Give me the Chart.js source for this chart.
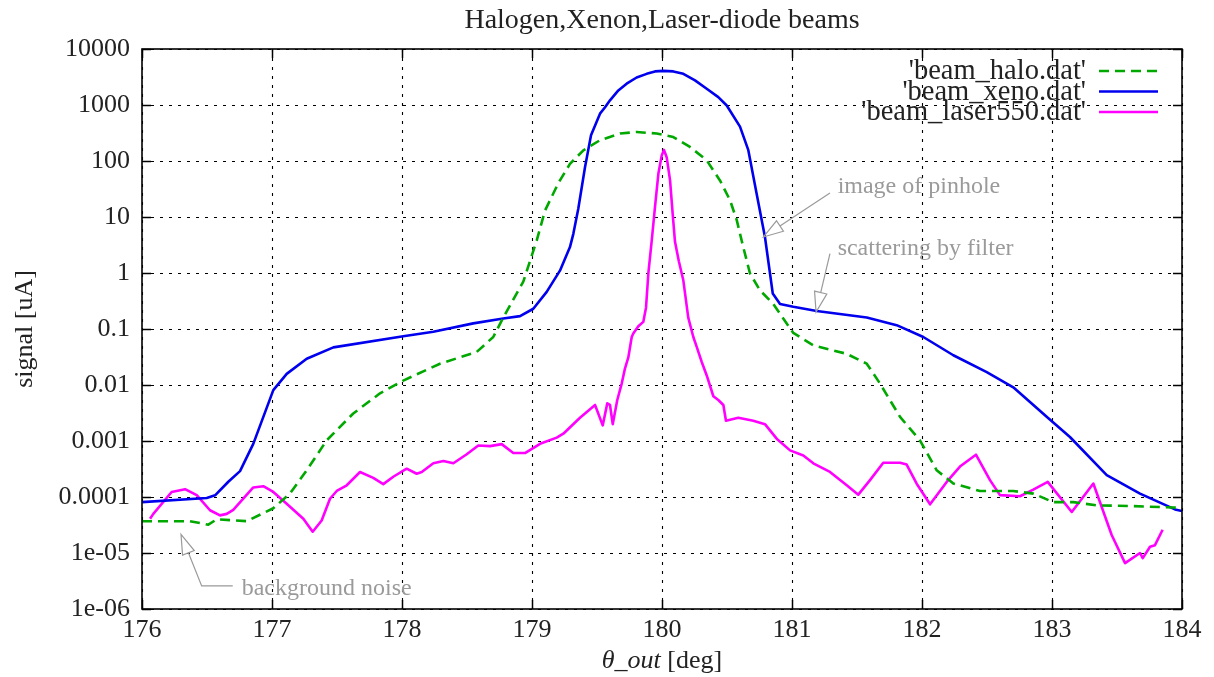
<!DOCTYPE html>
<html>
<head>
<meta charset="utf-8">
<script src="https://cdn.jsdelivr.net/npm/chart.js@4.4.1/dist/chart.umd.min.js"></script>
<style>
  html, body { margin: 0; padding: 0; background: #fff; }
  #wrap { width: 1214px; height: 677px; }
</style>
</head>
<body>
<div id="wrap"><canvas id="c" width="1214" height="677"></canvas></div>
<script>
// ---------- data ----------
const chartTitle = "Halogen,Xenon,Laser-diode beams";
const yAxisTitle = "signal [uA]";
const xAxisTitleItalic = "\u03b8_out";
const xAxisTitleRest = " [deg]";

const xTickValues = [176, 177, 178, 179, 180, 181, 182, 183, 184];
const yTickValues = [1e-6, 1e-5, 1e-4, 1e-3, 1e-2, 1e-1, 1, 10, 100, 1000, 10000];
const yTickLabels = ["1e-06", "1e-05", "0.0001", "0.001", "0.01", "0.1", "1", "10", "100", "1000", "10000"];

const seriesNames = ["'beam_halo.dat'", "'beam_xeno.dat'", "'beam_laser550.dat'"];

const haloX = [176.000,176.369,176.510,176.575,176.805,177.010,177.138,177.267,177.421,177.625,177.831,178.010,178.292,178.575,178.702,178.779,178.933,179.036,179.100,179.202,179.292,179.395,179.523,179.677,179.805,179.959,180.087,180.215,180.344,180.446,180.523,180.575,180.625,180.677,180.754,180.856,181.010,181.164,181.421,181.575,181.677,181.831,181.985,182.113,182.241,182.446,182.702,182.856,183.010,183.164,183.344,183.600,183.933,184.000];
const haloY = [3.7e-5,3.7e-5,3.2e-5,4.0e-5,3.7e-5,6.3e-5,1.15e-4,3.0e-4,0.00103,0.0031,0.0071,0.012,0.024,0.039,0.072,0.16,0.7,3.8,13,40,89,155,235,309,330,309,268,178,103,45,20,8.8,2.9,0.98,0.49,0.28,0.085,0.051,0.036,0.024,0.0106,0.0027,0.00102,3e-4,1.74e-4,1.28e-4,1.28e-4,1.15e-4,8.1e-5,8.1e-5,7.1e-5,6.9e-5,6.5e-5,6.4e-5];

const xenoX = [176.000,176.498,176.562,176.664,176.754,176.856,177.010,177.113,177.267,177.472,178.010,178.241,178.548,178.779,178.908,179.010,179.113,179.215,179.292,179.318,179.356,179.408,179.454,179.523,179.562,179.600,179.664,179.728,179.805,179.882,179.946,180.010,180.087,180.164,180.254,180.344,180.433,180.498,180.600,180.664,180.728,180.792,180.852,180.908,181.010,181.190,181.575,181.805,182.010,182.241,182.498,182.702,182.959,183.138,183.421,183.677,183.946,184.000];
const xenoY = [8.1e-5,9.6e-5,1.07e-4,1.87e-4,2.9e-4,8.9e-4,0.0081,0.0158,0.0295,0.047,0.074,0.089,0.126,0.154,0.17,0.23,0.46,1.1,2.9,5,14,78,288,700,910,1210,1820,2400,3100,3600,3980,4060,3980,3600,2750,1950,1380,980,410,156,26,4.4,0.43,0.28,0.25,0.21,0.16,0.117,0.072,0.034,0.017,0.0091,0.0027,0.00118,2.45e-4,1.15e-4,6.0e-5,5.6e-5];

const laserX = [176.062,176.087,176.228,176.331,176.421,176.523,176.600,176.652,176.702,176.856,
  176.933,177.010,177.113,177.241,177.313,177.382,177.446,177.498,177.575,177.677,
  177.779,177.856,177.933,178.036,178.113,178.152,178.241,178.318,178.395,178.498,
  178.587,178.677,178.767,178.856,178.946,179.062,179.190,179.241,179.369,179.485,
  179.544,179.579,179.600,179.621,179.656,179.690,179.715,179.741,179.767,179.779,
  179.818,179.856,179.877,179.895,179.921,179.946,179.972,179.998,180.015,180.036,
  180.062,180.082,180.100,180.130,180.164,180.202,180.241,180.267,180.305,180.344,
  180.395,180.433,180.472,180.492,180.587,180.702,180.792,180.882,180.985,181.087,
  181.164,181.292,181.421,181.510,181.600,181.702,181.831,181.882,181.959,182.062,
  182.190,182.292,182.415,182.523,182.600,182.754,182.856,182.967,183.152,183.318,
  183.459,183.562,183.677,183.698,183.754,183.792,183.851];
const laserY = [4.1e-5,5e-5,1.23e-4,1.38e-4,1.08e-4,5.8e-5,4.7e-5,5e-5,5.9e-5,1.48e-4,
  1.56e-4,1.23e-4,7.6e-5,4.1e-5,2.4e-5,3.8e-5,9.3e-5,1.28e-4,1.62e-4,2.8e-4,
  2.2e-4,1.7e-4,2.3e-4,3.2e-4,2.6e-4,2.8e-4,4.0e-4,4.4e-4,4.0e-4,5.8e-4,
  8.3e-4,8.1e-4,8.8e-4,6.1e-4,6.1e-4,8.9e-4,0.00115,0.00135,0.0026,0.0044,
  0.0019,0.0047,0.0044,0.002,0.0054,0.0106,0.0196,0.031,0.072,0.083,
  0.112,0.134,0.24,0.98,3.8,15,59,126,158,117,
  45,11.5,3.6,1.6,0.74,0.16,0.072,0.048,0.026,0.0148,
  0.0063,0.0054,0.0044,0.0023,0.0026,0.0023,0.002,0.0011,6.8e-4,5.5e-4,
  4.0e-4,2.8e-4,1.62e-4,1.1e-4,2.0e-4,4.1e-4,4.1e-4,3.8e-4,1.73e-4,7.4e-5,
  1.86e-4,3.5e-4,5.7e-4,2.0e-4,1.08e-4,1.03e-4,1.35e-4,1.86e-4,5.4e-5,1.74e-4,
  2.1e-5,6.6e-6,1.0e-5,8.1e-6,1.29e-5,1.38e-5,2.6e-5];

// annotation labels (text anchor and arrow path in data coordinates; last point = arrow tip)
const noteTexts = ["image of pinhole", "scattering by filter", "background noise"];
const noteTextX = [181.351, 181.351, 176.767];
const noteTextY = [35.3, 2.76, 2.34e-6];
const notePathX = [[181.292, 180.779], [181.292, 181.185], [176.698, 176.459, 176.300]];
const notePathY = [[26.8, 4.39], [2.22, 0.201], [2.58e-6, 2.58e-6, 2.16e-5]];

// ---------- styling ----------
const FONT = "'Liberation Serif', 'Times New Roman', serif";
const TXT = '#222';
const colors = ['#00a800', '#0000ee', '#ff00ff'];
const dashes = [[10, 6], [], []];

function pts(xs, ys) { return xs.map((v, i) => ({ x: v, y: ys[i] })); }

const frame = {
  id: 'gnuplotFrame',
  beforeDatasetsDraw(chart) {
    const { ctx, chartArea: a, scales: { x, y } } = chart;
    ctx.save();
    ctx.strokeStyle = '#000';
    ctx.lineWidth = 1.1;
    ctx.setLineDash([3, 6]);
    xTickValues.forEach(v => {
      const p = Math.round(x.getPixelForValue(v)) + 0.5;
      ctx.beginPath(); ctx.moveTo(p, a.top); ctx.lineTo(p, a.bottom); ctx.stroke();
    });
    yTickValues.forEach(v => {
      const p = Math.round(y.getPixelForValue(v)) + 0.5;
      ctx.beginPath(); ctx.moveTo(a.left, p); ctx.lineTo(a.right, p); ctx.stroke();
    });
    ctx.restore();
  },
  afterDatasetsDraw(chart) {
    const { ctx, chartArea: a, scales: { x, y } } = chart;
    ctx.save();
    // inward tick marks on all four sides
    ctx.strokeStyle = '#000';
    ctx.lineWidth = 1.5;
    ctx.setLineDash([]);
    const TL = 9;
    xTickValues.forEach(v => {
      const p = Math.round(x.getPixelForValue(v)) + 0.5;
      ctx.beginPath();
      ctx.moveTo(p, a.bottom); ctx.lineTo(p, a.bottom - TL);
      ctx.moveTo(p, a.top); ctx.lineTo(p, a.top + TL);
      ctx.stroke();
    });
    yTickValues.forEach(v => {
      const p = Math.round(y.getPixelForValue(v)) + 0.5;
      ctx.beginPath();
      ctx.moveTo(a.left, p); ctx.lineTo(a.left + TL, p);
      ctx.moveTo(a.right, p); ctx.lineTo(a.right - TL, p);
      ctx.stroke();
    });
    // border
    ctx.lineWidth = 1.6;
    ctx.strokeRect(a.left, a.top, a.right - a.left, a.bottom - a.top);

    // legend (top right, gnuplot style)
    ctx.font = '28.5px ' + FONT;
    ctx.textAlign = 'right';
    ctx.textBaseline = 'middle';
    chart.data.datasets.forEach((ds, i) => {
      const yy = a.top + 22 + i * 20.5;
      ctx.fillStyle = TXT;
      ctx.fillText(ds.label, a.right - 96, yy + 1);
      ctx.strokeStyle = ds.borderColor;
      ctx.lineWidth = 2.6;
      ctx.setLineDash(ds.borderDash || []);
      ctx.beginPath(); ctx.moveTo(a.right - 83, yy); ctx.lineTo(a.right - 24, yy); ctx.stroke();
    });
    ctx.setLineDash([]);

    // annotations
    ctx.font = '24px ' + FONT;
    ctx.textAlign = 'left';
    ctx.textBaseline = 'middle';
    ctx.fillStyle = '#9a9a9a';
    ctx.strokeStyle = '#9a9a9a';
    ctx.lineWidth = 1.2;
    noteTexts.forEach((t, i) => {
      ctx.fillText(t, x.getPixelForValue(noteTextX[i]), y.getPixelForValue(noteTextY[i]));
      const P = notePathX[i].map((vx, k) => [x.getPixelForValue(vx), y.getPixelForValue(notePathY[i][k])]);
      const tip = P[P.length - 1], prev = P[P.length - 2];
      const dx = tip[0] - prev[0], dy = tip[1] - prev[1];
      const len = Math.hypot(dx, dy), ux = dx / len, uy = dy / len;
      const HL = 20, HW = 6.3;
      const bx = tip[0] - ux * HL, by = tip[1] - uy * HL;
      ctx.beginPath();
      ctx.moveTo(P[0][0], P[0][1]);
      for (let k = 1; k < P.length - 1; k++) ctx.lineTo(P[k][0], P[k][1]);
      ctx.lineTo(bx, by);
      ctx.stroke();
      ctx.beginPath();
      ctx.moveTo(tip[0], tip[1]);
      ctx.lineTo(bx - uy * HW, by + ux * HW);
      ctx.lineTo(bx + uy * HW, by - ux * HW);
      ctx.closePath();
      ctx.stroke();
    });

    // title
    ctx.fillStyle = TXT;
    ctx.font = '28px ' + FONT;
    ctx.textAlign = 'center';
    ctx.textBaseline = 'alphabetic';
    ctx.fillText(chartTitle, (a.left + a.right) / 2, 28);

    // x axis title (italic part + roman part)
    const fi = 'italic 26px ' + FONT, fr = '26px ' + FONT;
    ctx.font = fi; const w1 = ctx.measureText(xAxisTitleItalic).width;
    ctx.font = fr; const w2 = ctx.measureText(xAxisTitleRest).width;
    const x0 = (a.left + a.right) / 2 - (w1 + w2) / 2;
    ctx.textAlign = 'left';
    ctx.font = fi; ctx.fillText(xAxisTitleItalic, x0, a.bottom + 59);
    ctx.font = fr; ctx.fillText(xAxisTitleRest, x0 + w1, a.bottom + 59);

    // y axis title
    ctx.save();
    ctx.translate(32, (a.top + a.bottom) / 2);
    ctx.rotate(-Math.PI / 2);
    ctx.textAlign = 'center';
    ctx.fillText(yAxisTitle, 0, 0);
    ctx.restore();

    ctx.restore();
  }
};

new Chart(document.getElementById('c'), {
  type: 'line',
  data: {
    datasets: [
      { label: seriesNames[0], data: pts(haloX, haloY) },
      { label: seriesNames[1], data: pts(xenoX, xenoY) },
      { label: seriesNames[2], data: pts(laserX, laserY) }
    ].map((d, i) => Object.assign(d, {
      borderColor: colors[i], backgroundColor: colors[i], borderDash: dashes[i],
      borderWidth: 2.6, pointRadius: 0, tension: 0, fill: false, borderJoinStyle: 'round'
    }))
  },
  options: {
    responsive: false,
    animation: false,
    devicePixelRatio: 1,
    layout: { padding: { left: 0, right: 32, top: 49, bottom: 0 } },
    plugins: { legend: { display: false }, title: { display: false }, tooltip: { enabled: false } },
    scales: {
      x: {
        type: 'linear', min: 176, max: 184,
        grid: { display: false, drawTicks: false },
        border: { display: false },
        afterBuildTicks: s => { s.ticks = xTickValues.map(v => ({ value: v })); },
        ticks: { font: { family: FONT, size: 26 }, color: TXT, padding: 6, maxRotation: 0, autoSkip: false },
        afterFit: s => { s.height = 68; }
      },
      y: {
        type: 'logarithmic', min: 1e-6, max: 1e4,
        grid: { display: false, drawTicks: false },
        border: { display: false },
        afterBuildTicks: s => { s.ticks = yTickValues.map(v => ({ value: v })); },
        ticks: {
          font: { family: FONT, size: 26 }, color: TXT, padding: 12, autoSkip: false,
          callback: (v) => yTickLabels[yTickValues.findIndex(t => Math.abs(Math.log10(t) - Math.log10(v)) < 1e-6)]
        },
        afterFit: s => { s.width = 142; }
      }
    }
  },
  plugins: [frame]
});
</script>
</body>
</html>
